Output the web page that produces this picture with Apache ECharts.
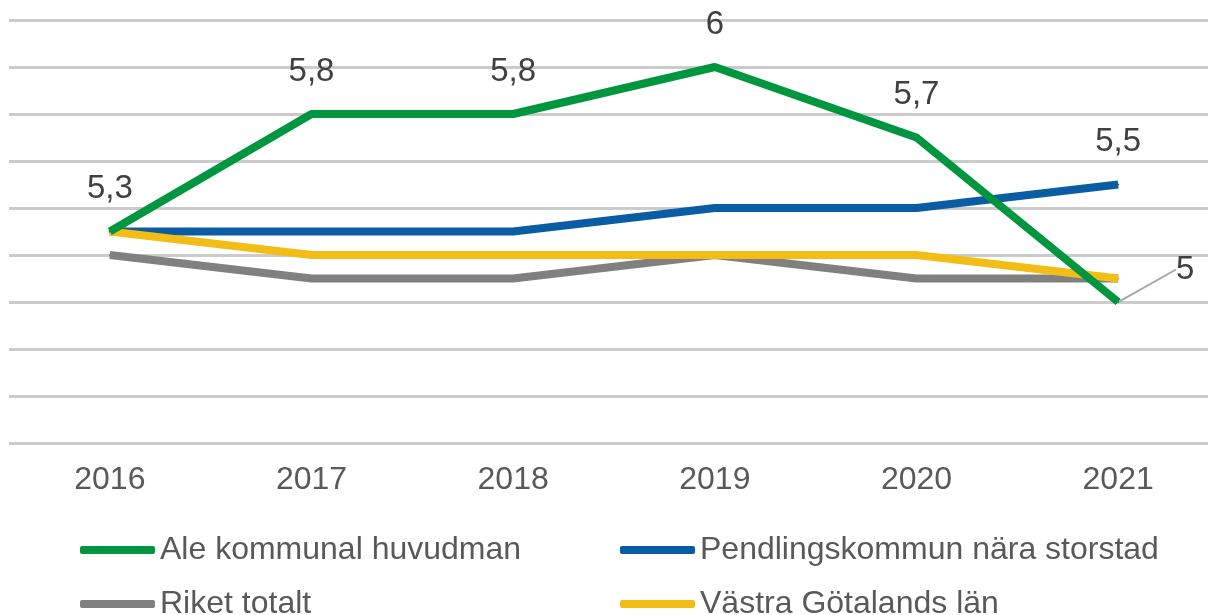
<!DOCTYPE html>
<html>
<head>
<meta charset="utf-8">
<script src="https://cdn.jsdelivr.net/npm/echarts@6/dist/echarts.min.js"></script>
<style>
html, body { margin: 0; padding: 0; background: #fff; }
#chart { width: 1208px; height: 615px; }
</style>
</head>
<body>
<div id="chart"></div>
<script>
var years = ['2016', '2017', '2018', '2019', '2020', '2021'];
var ale = [5.3, 5.8, 5.8, 6.0, 5.7, 5.0];
var pendling = [5.3, 5.3, 5.3, 5.4, 5.4, 5.5];
var riket = [5.2, 5.1, 5.1, 5.2, 5.1, 5.1];
var vastra = [5.3, 5.2, 5.2, 5.2, 5.2, 5.1];

var fontFam = 'Liberation Sans, Arial, sans-serif';
var labelFmt = function (p) { return String(p.value).replace('.', ','); };

// one legend per item so the 2x2 block lines up like the original
function legendItem(name, left, top) {
    return {
        left: left, top: top, padding: 0,
        icon: 'roundRect', itemWidth: 75, itemHeight: 8,
        textStyle: { fontSize: 32, color: '#595959', fontFamily: fontFam },
        data: [name]
    };
}

var myChart = echarts.init(document.getElementById('chart'));

var option = {
    backgroundColor: '#ffffff',
    animation: false,
    grid: { left: 9, top: 20, width: 1210, bottom: 172, outerBoundsMode: 'none' },
    legend: [
        legendItem('Ale kommunal huvudman', 80, 534),
        legendItem('Pendlingskommun nära storstad', 620, 534),
        legendItem('Riket totalt', 80, 588),
        legendItem('Västra Götalands län', 620, 588)
    ],
    xAxis: {
        type: 'category',
        data: years,
        axisLine: { show: false },
        axisTick: { show: false },
        axisLabel: { margin: 21, fontSize: 32, color: '#595959', fontFamily: fontFam }
    },
    yAxis: {
        type: 'value',
        min: 4.4, max: 6.2, interval: 0.2,
        axisLabel: { show: false },
        axisLine: { show: false },
        axisTick: { show: false },
        splitLine: { lineStyle: { color: '#cbcbcb', width: 3 } }
    },
    series: [
        {
            name: 'Ale kommunal huvudman',
            type: 'line', z: 5,
            data: ale.map(function (v, i) {
                if (i === 5) {
                    return { value: v, labelLine: { show: true } };
                }
                return v;
            }),
            symbol: 'circle', symbolSize: 2,
            color: '#00963f',
            lineStyle: { width: 8, color: '#00963f' },
            label: {
                show: true, position: 'top', distance: 25,
                fontSize: 33, color: '#404040', fontFamily: fontFam,
                formatter: labelFmt
            },
            labelLine: { show: false, lineStyle: { color: '#a6a6a6', width: 2 } },
            labelLayout: function (params) {
                if (params.dataIndex === 5) {
                    return { dx: 67, dy: 10 };
                }
                return {};
            }
        },
        {
            name: 'Pendlingskommun nära storstad',
            type: 'line', z: 3,
            data: pendling.map(function (v, i) {
                if (i === 5) {
                    return { value: v, label: { show: true } };
                }
                return v;
            }),
            symbol: 'circle', symbolSize: 2,
            color: '#0a5ca3',
            lineStyle: { width: 8, color: '#0a5ca3' },
            label: {
                show: false, position: 'top', distance: 25,
                fontSize: 33, color: '#404040', fontFamily: fontFam,
                formatter: labelFmt
            }
        },
        {
            name: 'Riket totalt',
            type: 'line', z: 2,
            data: riket,
            symbol: 'circle', symbolSize: 2,
            color: '#808080',
            lineStyle: { width: 8, color: '#808080' }
        },
        {
            name: 'Västra Götalands län',
            type: 'line', z: 4,
            data: vastra,
            symbol: 'circle', symbolSize: 2,
            color: '#f2bd14',
            lineStyle: { width: 8, color: '#f2bd14' }
        }
    ]
};

myChart.setOption(option);
</script>
</body>
</html>
